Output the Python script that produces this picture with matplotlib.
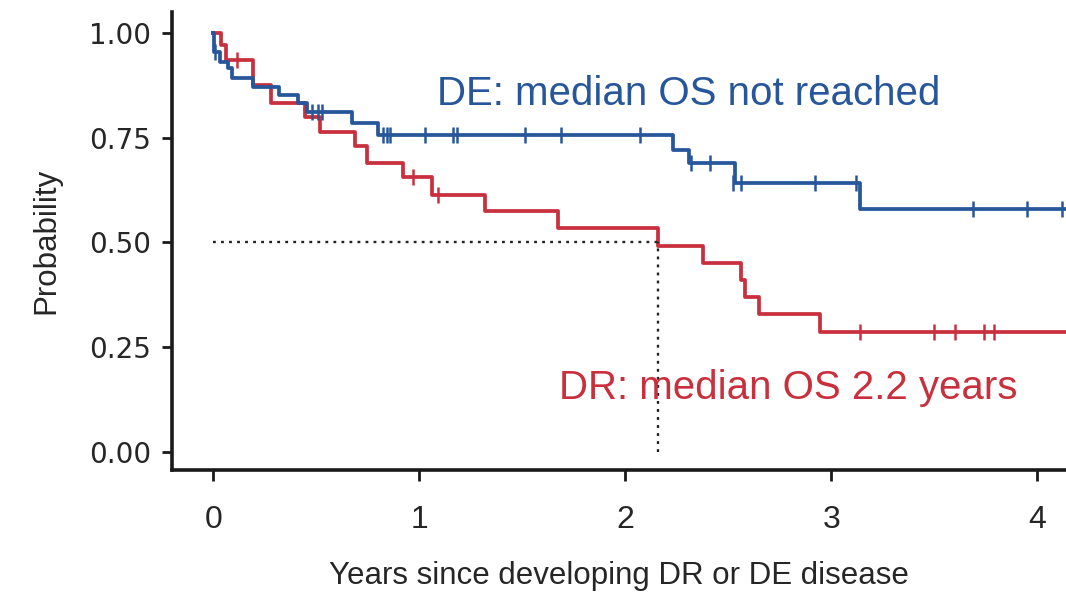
import matplotlib
matplotlib.use("Agg")
import matplotlib.pyplot as plt

# DR group: drop times and survival after each drop
dr_times = [0.04, 0.06, 0.195, 0.28, 0.447, 0.52, 0.69, 0.746, 0.92, 1.06, 1.32, 1.675, 2.16, 2.38, 2.56, 2.58, 2.65, 2.945]
dr_surv = [0.97, 0.935, 0.875, 0.833, 0.80, 0.764, 0.73, 0.69, 0.656, 0.613, 0.575, 0.535, 0.492, 0.452, 0.41, 0.37, 0.329, 0.286]
dr_cens_t = [0.115, 0.97, 1.09, 3.14, 3.50, 3.60, 3.74, 3.79]
dr_cens_s = [0.935, 0.656, 0.613, 0.286, 0.286, 0.286, 0.286, 0.286]

# DE group
de_times = [0.005, 0.035, 0.07, 0.09, 0.195, 0.32, 0.41, 0.455, 0.675, 0.80, 2.23, 2.31, 2.535, 3.14]
de_surv = [0.955, 0.93, 0.915, 0.893, 0.871, 0.852, 0.833, 0.81, 0.785, 0.757, 0.72, 0.69, 0.642, 0.58]
de_cens_t = [0.01, 0.48, 0.51, 0.53, 0.825, 0.845, 0.86, 1.03, 1.165, 1.185, 1.515, 1.69, 2.07,
             2.32, 2.41, 2.525, 2.56, 2.92, 3.12, 3.69, 3.95, 4.12]
de_cens_s = [0.955, 0.81, 0.81, 0.81, 0.757, 0.757, 0.757, 0.757, 0.757, 0.757, 0.757, 0.757, 0.757,
             0.69, 0.69, 0.642, 0.642, 0.642, 0.642, 0.58, 0.58, 0.58]

dr_median = 2.16
t_end = 4.2

blue = "#27569b"
red = "#c9303e"
txt = "#262626"

fig = plt.figure(figsize=(10.66, 5.93), dpi=100)
ax = fig.add_axes([0.1614, 0.2074, 0.8386, 0.7726])

# step curves
ax.step([0] + dr_times + [t_end], [1.0] + dr_surv + [dr_surv[-1]], where="post", color=red, lw=2.7)
ax.step([0] + de_times + [t_end], [1.0] + de_surv + [de_surv[-1]], where="post", color=blue, lw=2.7)
ax.plot(dr_cens_t, dr_cens_s, ls="none", marker="|", ms=12, mew=1.8, color=red)
ax.plot(de_cens_t, de_cens_s, ls="none", marker="|", ms=12, mew=1.8, color=blue)

# median lines
ax.plot([0, dr_median], [0.5, 0.5], ls=(0, (1.2, 2.2)), color="#222222", lw=1.7)
ax.plot([dr_median, dr_median], [0.0, 0.5], ls=(0, (1.2, 2.2)), color="#222222", lw=1.7)

ax.text(1.087, 0.827, "DE: median OS not reached", color=blue, fontsize=29,
        family="Liberation Sans", va="baseline")
ax.text(1.68, 0.127, "DR: median OS 2.2 years", color=red, fontsize=29,
        family="Liberation Sans", va="baseline")

ax.set_xlim(-0.2, 4.14)
ax.set_ylim(-0.043, 1.05)
ax.set_xticks([0, 1, 2, 3, 4])
ax.set_yticks([0, 0.25, 0.5, 0.75, 1.0])
ax.set_yticklabels(["0.00", "0.25", "0.50", "0.75", "1.00"], family="DejaVu Sans", fontsize=20, color=txt)
ax.set_xticklabels(["0", "1", "2", "3", "4"], family="Liberation Sans", fontsize=23, color=txt)

for s in ["top", "right"]:
    ax.spines[s].set_visible(False)
for s in ["left", "bottom"]:
    ax.spines[s].set_linewidth(2.6)
    ax.spines[s].set_color("#1a1a1a")
ax.tick_params(axis="y", length=7, width=2, pad=8, color="#1a1a1a")
ax.tick_params(axis="x", length=8, width=2, pad=17, color="#1a1a1a")

ax.set_xlabel("Years since developing DR or DE disease", family="Liberation Sans", fontsize=22.5,
              color=txt, labelpad=19)
ax.set_ylabel("Probability", family="Liberation Sans", fontsize=22.5, color=txt, labelpad=20)

fig.savefig("out.png", dpi=100)
